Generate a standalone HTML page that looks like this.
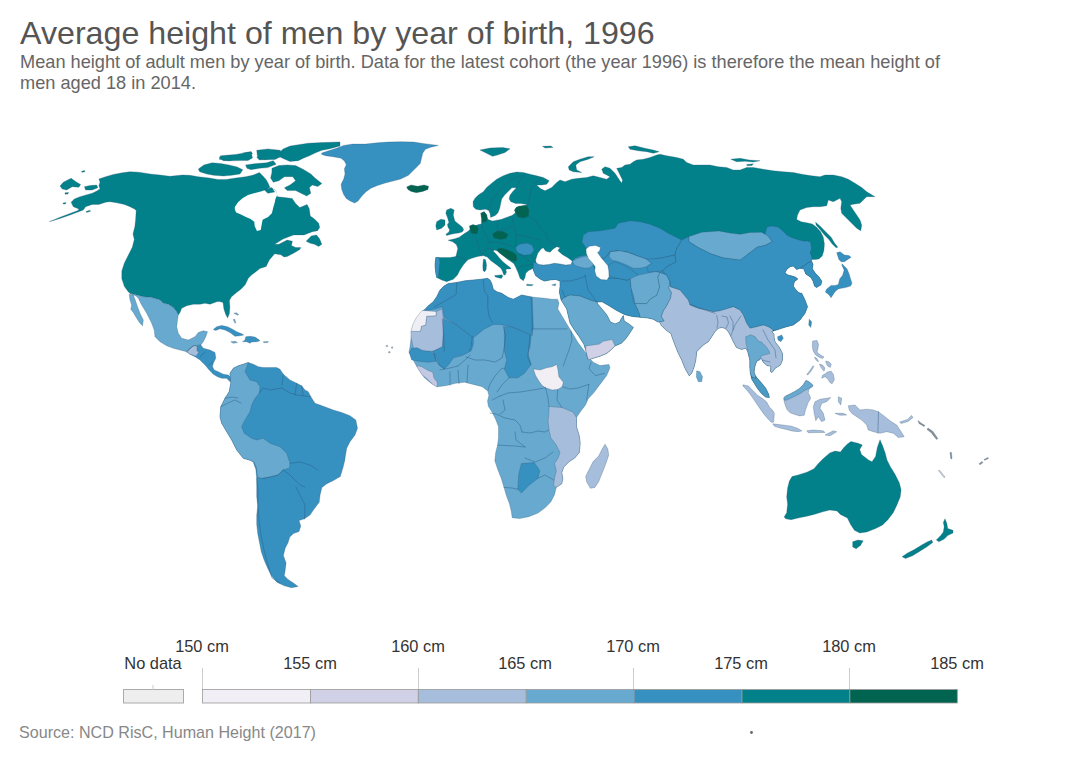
<!DOCTYPE html>
<html><head><meta charset="utf-8">
<style>
html,body{margin:0;padding:0;background:#fff;}
body{width:1080px;height:762px;position:relative;overflow:hidden;font-family:"Liberation Sans",Arial,sans-serif;}
.t{position:absolute;white-space:nowrap;line-height:1;}
#title{left:20px;top:16.5px;font-size:32.2px;color:#555;}
#sub1{left:20px;top:53px;font-size:18.2px;color:#666;}
#sub2{left:20px;top:73.5px;font-size:18.2px;color:#666;}
#src{left:19px;top:724.2px;font-size:16.1px;color:#888;}
.lab{position:absolute;font-size:16.4px;color:#333;white-space:nowrap;line-height:1;transform:translateX(-50%);}
svg{position:absolute;left:0;top:0;}
</style></head><body>
<div class="t" id="title">Average height of men by year of birth, 1996</div>
<div class="t" id="sub1">Mean height of adult men by year of birth. Data for the latest cohort (the year 1996) is therefore the mean height of</div>
<div class="t" id="sub2">men aged 18 in 2014.</div>
<div class="t" id="src">Source: NCD RisC, Human Height (2017)</div>
<div class="lab" style="left:153px;top:655px">No data</div>
<div class="lab" style="left:202px;top:637.8px">150 cm</div>
<div class="lab" style="left:310px;top:655px">155 cm</div>
<div class="lab" style="left:418px;top:637.8px">160 cm</div>
<div class="lab" style="left:525px;top:655px">165 cm</div>
<div class="lab" style="left:633px;top:637.8px">170 cm</div>
<div class="lab" style="left:741px;top:655px">175 cm</div>
<div class="lab" style="left:849px;top:637.8px">180 cm</div>
<div class="lab" style="left:957px;top:655px">185 cm</div>
<svg width="1080" height="762" viewBox="0 0 1080 762"><g stroke="#2f5570" stroke-width="0.5" stroke-opacity="0.55" stroke-linejoin="round"><path d="M49.4 221.7 60 218.5 70 215 78 212 83.3 210 85.6 206.7 92.2 204.4 98.9 204.4 105.6 202.2 110 201.7 116.7 202.8 124.4 204.4 130 206.7 134.4 208.9 136.2 210.5 135.6 219.7 134.9 226.2 133 234.1 134.3 239.4 132.3 247.2 128.4 255.1 124.4 263 121.8 270.9 121.8 278.7 124.4 286.6 128.4 291.9 130 293.3 136.7 295 143.3 296.7 151.7 297.5 160 300 163.3 303.3 168.3 304.2 173.3 307.5 176.7 311.7 178.3 315 180 312.5 181.7 308.3 186.7 305.8 193.3 304.2 200 304.2 205 303.3 210 304.2 216.7 301.7 219.3 301.5 223 302.4 223.9 308.9 225.7 314.4 227.6 318.1 229.4 313.5 229.9 307 229.4 300.6 231.3 296.9 235.9 293.1 240.6 289.4 245.2 284.8 248.3 278.3 251.5 275 254.6 272.7 259.9 268.5 266.2 266.4 269.3 260.1 274.6 253.8 280.9 254.8 284 256.9 287.2 256.4 293.5 253.3 299.8 249.6 300.8 247.5 295.6 247.5 291.4 245.4 292.4 241.2 287.2 240.1 278.8 244.3 274.6 244.3 283 239.1 293.5 234.9 304 234.9 312.4 231.7 317.6 230.7 319.7 227.5 318.7 223.3 314.5 219.1 310.3 216 309.2 208.6 307.1 204.4 299.8 207.6 295.6 203.4 292.2 198.5 284.8 197.6 277.4 196.7 275.6 190.2 270 187.4 268 183 266.4 180 263.6 176.7 259.4 172.5 252.5 175.3 245.6 176.7 235.8 178 226.1 179.4 217.8 179.4 209.4 178 198.3 176.7 190 175.3 182.5 175 170 176.3 160 175 150 173.9 138.9 172.2 130 171.7 122.2 172.8 113.3 174.4 105.6 176.7 98.9 178.9 100 182.2 98.9 185.6 100 188.9 96.7 191.1 92.2 193.3 87.8 194.4 80 196.7 74.4 198.9 71.1 202.2 73.3 206.7 78.9 208.9 78 210.5 70 213.5 60 217.3 49.4 221.7Z" fill="#02818a"/>
<path d="M234.8 206.9 238 202.2 242.5 198.2 248 195 253 193.5 257 192.5 262.6 191.1 266.3 189.3 270 187.4 275.6 190.2 277.4 194.8 275.6 198.5 274.6 203.1 273.2 207.8 271.9 213.3 268.1 217 262.6 219.8 261.7 224.4 260.7 230 257 230.9 254.7 226.3 254.3 221.7 250.6 218.9 245.9 217 240.4 214.3 236.2 212.4 234.8 209.6Z" fill="#ffffff" stroke="none"/>
<path d="M306.1 241.2 311.3 235.9 316.6 234.9 319.7 239.1 321.8 244.3 318.7 246.4 314.5 244.3 310.3 243.3Z" fill="#02818a"/>
<path d="M60 186.1 63.3 182.2 71.1 178.3 76.7 182.2 80.6 184.4 78.9 187.2 72.2 186.7 66.7 190 62.2 188.9Z" fill="#02818a"/>
<path d="M84.4 186.7 90 185.6 96.7 185 97.8 187.8 92.2 190 85.6 190Z" fill="#02818a"/>
<path d="M65 192.8 68.5 192.5 68 194 65 194.2Z" fill="#02818a"/>
<path d="M81.5 171.3 84.5 170.6 85 171.8 82 172.3Z" fill="#02818a"/>
<path d="M63 203 66 202.6 65.5 204 63.2 204Z" fill="#02818a"/>
<path d="M86 211.5 90 210.3 90.5 211.3 86.5 212.5Z" fill="#02818a"/>
<path d="M283.1 148.9 290 146.1 298.3 144.7 308.1 143.3 321.9 142.6 340 141.9 340 146.1 328.9 148.9 321.9 150.3 315 153.1 309.4 155.8 303.9 157.9 298.3 160.7 290 161.4 283.1 158.6 277.5 155.8 280.3 151.7Z" fill="#02818a"/>
<path d="M271.9 168.3 278.9 165.6 287.2 164.9 295.6 165.6 303.9 169.7 310.8 173.9 315 178 321.9 183.6 317.8 186.4 312.2 185 309.4 187.8 310.8 193.3 306.7 196.1 301.1 193.3 295.6 190.6 287.2 190.6 284.4 187.8 290 185 295.6 180.8 292.8 176.7 284.4 176.7 278.9 180.8 273.3 182.2 270.6 178 271.9 172.5Z" fill="#02818a"/>
<path d="M198.3 169 203.9 164.9 212.2 162.8 220.6 163.5 228.9 164.9 237.2 167 242.8 169.7 240 173.9 231.7 175.3 223.3 176 213.6 175.3 206.7 173.9 199.7 171.8Z" fill="#02818a"/>
<path d="M219.2 157.2 227.5 155.8 235.8 155.1 237.2 157.9 230.3 160.7 223.3 160.7Z" fill="#02818a"/>
<path d="M242.8 153.1 251.1 151.7 252.5 153.8 245.6 155.1Z" fill="#02818a"/>
<path d="M259.4 153.1 267.8 151.7 276.1 153.1 273.3 155.8 265 155.8Z" fill="#02818a"/>
<path d="M245.6 164.9 256.7 163.5 266.4 162.8 273.3 160.7 276.1 164.2 267.8 167.6 259.4 168.3 251.1 169.7 246.9 168.3Z" fill="#02818a"/>
<path d="M256.7 157.2 265 156.5 267.8 159.3 259.4 160Z" fill="#02818a"/>
<path d="M263.6 189.2 271.9 187.8 274.7 192 267.8 193.3Z" fill="#02818a"/>
<path d="M220.6 155.8 235.8 154.4 251.1 151.7 252.5 158 248 160.5 241.4 160.6 228.9 160.8 219.2 159.3Z" fill="#02818a"/>
<path d="M256.7 150.3 267.8 148.9 280.3 150.3 281.7 156.2 275 159.5 264 159.8 257.5 157.2Z" fill="#02818a"/>
<path d="M321.7 153.1 329.4 150.6 337.2 148 343.7 145.4 352.8 144.1 365.7 144.1 377.4 142.8 387.8 142.1 400.7 141.7 413.7 142.1 422.8 143.4 438.3 145.4 430.6 147.3 425.4 149.3 422.8 153.1 421.5 158.3 420.2 163.5 416.3 167.4 412.4 171.3 408.5 175.2 400.7 179.1 393 181 385.2 183 377.4 185.6 370.9 188.2 365.7 192 361.9 195.9 358 201.1 354.7 203.1 350.2 201.1 346.3 198.5 343.7 194.6 341.8 189.4 341.1 184.3 343.7 179.1 345 173.9 344.4 168.7 346.3 164.8 344.4 160.9 341.1 158.3 334.6 157 325.6 155.7 321.7 154.4Z" fill="#3690c0"/>
<path d="M406.6 186.9 411.1 184.9 417.6 186.2 424.1 184.9 428.6 186.2 428 189.4 422.8 191.4 416.3 192.7 411.1 191.4 407.9 189.4Z" fill="#016450"/>
<path d="M129.2 294.2 133.3 295 135 299.2 137.5 306.7 140 313.3 143.3 320 142.5 325.8 140 323.3 136.7 318.3 133.3 312.5 130.8 309.2 131.7 305 130 300Z" fill="#67a9cf"/>
<path d="M130 293.3 136.7 295 143.3 296.7 151.7 297.5 160 300 163.3 303.3 168.3 304.2 173.3 307.5 176.7 311.7 178.3 315 177.5 320 176.7 326.7 178.3 333.3 181.7 338.3 188.3 340 195 336.7 198.3 332.5 203.3 330.8 207.5 331.7 205.8 336.7 203.3 341.7 200.8 345 193 346 186.7 351.7 180 350 173.3 348.3 166.7 345.8 160 341.7 155 336.7 154.2 330 151.7 323.3 146.7 313.3 141.7 305 138.3 298.3 136 296Z" fill="#67a9cf"/>
<path d="M200.8 345 203.3 348.3 210 350 215 352.5 215.8 358.3 213.3 363.3 212.5 366.7 214.2 370 218.3 371.7 223.3 374.2 228.3 375 231.7 378.3 230 381.7 226.7 378.3 221.7 378.3 217.5 376.7 213.3 374.2 209.2 370 205 365 200 360 195 356.7 190 354.2 186.7 351.7 193 346Z" fill="#3690c0"/>
<path d="M186.7 351.7 193 346 197 346 197 351 199 352 196 356.2 190 354.2Z" fill="#a6bddb"/>
<path d="M213.3 329.6 216.7 326.7 221.7 325.4 227.5 326.7 232.5 329.2 236.7 331.7 241.7 333.8 243.8 335 240 335.8 235 336.3 233.3 335 230 332.5 225 330 220 328.8 215.8 330.4Z" fill="#3690c0"/>
<path d="M245.8 336.7 250 336.3 255 337.1 258.3 339.2 260 340.8 256.7 341.7 251.7 342.1 250 343.3 246.7 341.7 242.5 341.7 245 340Z" fill="#3690c0"/>
<path d="M230.8 341.7 235 341.3 237.5 342.5 233.3 343.3Z" fill="#67a9cf"/>
<path d="M263.3 341.7 268.3 341.5 267.9 342.5 263.8 342.7Z" fill="#67a9cf"/>
<path d="M233.3 319.5 234.5 319 235.8 322.5 235 323.3Z" fill="#67a9cf"/>
<path d="M233.8 313.2 236.5 312.8 238.6 314.6 237.8 315.3 235.5 314Z" fill="#67a9cf"/>
<path d="M230 373.3 233.3 368.3 238.3 365.8 243.3 364.2 248.3 362.5 253.3 364.2 258.3 366.7 263.3 367.5 270 367.5 276.7 367.5 280 369.2 283.3 374.2 290 380 296.7 383.3 301.7 385.8 305 390 308.3 391.7 310.8 396.7 315 403.3 320 405 326.7 407.5 333.3 410 341.7 412.5 350 415.8 355.8 420 357.5 428.3 355 435 350 441.7 346.7 448.3 345 458.3 344.9 460 343.1 467.3 340.3 476.5 333.9 480.2 326.5 483.9 321.9 487.6 320.1 494.9 319.2 502.2 313.7 509.6 310 515.1 304.5 518.8 299 520.6 300.8 526.1 299 531.6 293.5 533.5 289.8 537.1 288 542.7 285.2 548.2 283.4 555.5 286.1 562.9 285.2 570.2 284.3 575.7 288 579.4 293.5 583.1 298.1 586.4 291.6 587.7 284.3 585.8 276.9 582.2 271.4 575.7 267.8 568.4 264.1 560.1 261.3 551.8 259.5 542.7 257.7 533.5 256.7 524.3 256.7 515.1 257.7 505.9 256.7 496.7 256.7 487.6 256.7 478.4 255.8 469.2 253.1 461.8 249.4 460 243.3 458.3 236.7 450 231.7 440 226.7 431.7 221.7 423.3 220 416.7 220.8 406.7 225 398.3 229.2 391.7 230.8 383.3Z" fill="#3690c0"/>
<path d="M230 373.3 233.3 368.3 238.3 365.8 243.3 364.2 248.3 362.5 245 371.7 250 380 256.7 381.7 260 386.7 259.2 393.3 255 398.3 251.7 405 250 411.7 245 420 241.7 426.7 244.2 433.3 251.7 438.3 256.7 440 263.3 438.3 270 443.3 280 446.7 286.7 453.3 290 463.3 289.5 468 283 470 278 475 270 477 262 478.5 257.5 477 256.5 468 254 462 249.4 460 243.3 458.3 236.7 450 231.7 440 226.7 431.7 221.7 423.3 220 416.7 220.8 406.7 225 398.3 229.2 391.7 230.8 383.3Z" fill="#67a9cf"/>
<path d="M435.8 257.5 441.7 257.5 450 257.5 455.9 256.5 457 252 457.8 248.3 456.3 244.6 452.6 241.7 448.1 240.2 454.8 238.7 459.3 237.2 464.4 233.5 468.1 231.3 471.1 228.3 474.1 226.1 478.5 224.6 481.5 223.9 481.7 218.3 480.8 213.3 484.2 211.7 486.7 215 487.5 219.2 492.4 221.1 497 220.2 501.7 219.3 506.3 217.4 511.9 215.6 515.6 212.8 514.6 210 516.5 207.2 519.3 206.3 526.7 205.3 526.7 204.4 521.1 203.5 515.6 203.5 510.9 201.7 509.1 198.9 510 195.2 512.8 191.5 516.5 187.8 511.9 187.8 508.1 191.5 504.4 195.2 501.7 198.9 500.7 203.5 499.8 208.1 498 212.8 495.2 215.6 490.6 217.4 490 213.3 488.3 210 485 209.2 480 210 475.8 209.2 473.3 206.7 473 201.7 475 198.3 478.3 195 483.3 191.7 486.7 187.5 491.7 183.3 496.7 179.2 503.3 175.8 510 173.3 516.7 172 523.3 172.5 530 174.2 536.7 175.8 543.3 177.5 549.2 180.8 546.7 184.2 541.7 185 536.7 185 540 188.3 545 190.8 551.7 187.5 556.7 182.5 560 180 565 181.7 571.7 179.2 578.3 178.3 586.7 177.5 593.3 175.8 600 177.5 606.7 179.2 610 176.7 603.3 173.3 601.7 169.2 605 166.7 610 168.3 615 173.3 618.3 178.3 621.7 183.3 622.5 180 619.2 173.3 616.7 168.3 621.7 167.5 625 165 630 164.2 633.3 161.7 636.7 160 643.3 159.2 650 157.5 656.7 155 660 154.2 666.7 155.8 676.7 157.5 683.3 159.2 686.7 162.5 693.3 165 701.7 165 710 165 718.3 166.7 726.7 167.5 733.3 170 740 170 746.7 167.5 753.3 167.5 763.3 169.2 773.3 170.8 783.3 171.7 793.3 172.5 801.7 174.2 811.7 175.8 820 176.7 825 175 833.3 175 841.7 176.7 848.3 179.2 855 183.3 861.7 187.5 866.7 191.7 875 196.7 866.7 196.7 863.3 200 860 203.3 853.3 204.2 850 205 853.3 210 856.7 215 860 220 861.7 225 860.8 230.8 856.7 228.3 851.7 223.3 846.7 218.3 841.7 213.3 840.8 208.3 841.7 201.7 840 198.3 836.7 200 833.3 201.7 828.3 200 826.7 205.8 820 206.7 813.3 206.7 806.7 207.5 800 210 797.5 215 796.7 219.4 801.1 221.7 806.7 222.8 812.2 223.9 816.7 227.2 820.6 231.7 823.3 237.2 824.4 243.9 823.9 250.6 822.2 256.1 818.9 258.9 815.6 259.4 812.2 259.4 810 261.7 811.6 261 813 264.5 812.3 268.8 815.2 273.1 818.8 276.7 821.7 281.1 821 284.7 816.6 287.6 814.5 286.1 813 281.1 810.9 277.5 805.8 273.9 803.7 268.8 800 268.3 796.7 269.4 793.3 266.1 790 266.7 786.7 269.4 785 272.8 787.8 275 792.2 276.1 795.6 277.2 797.8 278.9 794.4 281.7 793.3 286.1 795.6 289.4 798.9 292.8 801.7 293.3 805 300 807.5 306.7 805 313.3 800 320 793.3 325 786.7 326.7 781.7 328.3 776.7 330 771.7 331.7 774 334 774.1 337.8 775.1 342 779.3 347.3 782.5 353.6 782.5 359.9 780.4 365.1 775.1 368.3 772 372.5 770.4 371.4 770.9 366.2 767 365.5 763 362 761.5 358 759.4 359.9 757.3 360.4 755.5 364 754.5 368 754 372 755.5 376 758 379 761.5 383 765.7 388.2 768.8 394.5 769.3 397.6 765.7 397.1 761.5 393.5 757.3 388.2 754.1 383 751.5 378.8 750.5 374 749.9 367 749.9 359.9 747.8 351.5 745.7 348.3 741.5 349.4 736.3 347.3 733 341 730 334.7 728.3 331.7 725 328.3 721.7 327.5 718.3 328.3 715 331.7 711.7 336.7 708.3 341.7 703.3 345 700 348.3 696.7 351.7 695.8 360 694.2 366.7 691.7 373.3 689.2 375.8 685 368.3 681.7 360 678.3 353.3 675 345 672.5 338.3 670.8 333.3 668.3 331.7 665.1 329.3 661.4 325.6 659.6 321.9 657.8 321.9 653.2 319.2 646.7 317.8 640.3 317.3 632.4 316.5 625.1 314.7 621.4 312.9 615.9 310.1 608.6 305.5 602.1 301.8 597 302 597.5 303.7 602.1 309.2 606.7 314.7 608.6 318.4 610.4 322 615 323.9 619.6 322 621.4 318.4 623.3 315.6 624.2 321.1 628.8 323.9 633.4 327.5 629.7 333.1 626 338.6 621.4 343.2 615 345.9 611.3 349.6 606.7 353.3 600.3 356 593.9 357.9 588.4 359.7 587.4 358.8 586.1 351.4 583.8 344.1 579.2 336.7 574.6 330.3 570 323 566.7 308.9 561.1 300 559.4 292.2 560 286.7 560 281.1 555.6 279.4 550 280 544.4 281.1 540 278.9 535.6 275.6 533.3 270 533.3 268.3 528.3 270.8 525.8 273.3 525 277.5 523.3 280.8 520 278.3 518.3 273.3 516.7 269.2 513.9 263.7 510.9 261.5 506.5 258.5 502 254.8 497.6 251.1 494.5 250 493.1 251.1 496.1 254.1 499.8 258.5 503.5 262.2 507.2 265.2 510.2 267.4 510.9 268.9 508.7 268.9 507 269 505.7 269.8 506.5 272 505.5 274.5 504 275.2 503.2 273.5 502.5 271 500.6 268.1 496.1 264.4 490.9 260.7 487.2 257 482.8 255.6 476.7 256.7 471.7 258.3 467.5 260 463.3 265 460 270 457.5 275 453.3 279.2 446.7 281.7 441.7 280 436.7 277.5 435.8 273.3 435 265Z" fill="#02818a"/>
<path d="M469.3 226 473 224.6 476.7 225.8 478.5 229 477 233.9 471 233Z" fill="#016450"/>
<path d="M481.7 218.3 480.8 213.3 484.2 211.7 486.7 215 487.5 219.2 486 221.5 482 222.5Z" fill="#016450"/>
<path d="M516.5 207.2 519.3 206.3 526.7 205.3 529 210 528.5 216 524 218.1 518 217 515.6 212.8 514.6 210Z" fill="#016450"/>
<path d="M492.4 234 497 231.1 503 231.5 508.1 234.5 506 238.5 500 239.4 494 238Z" fill="#016450"/>
<path d="M496.9 249.6 500.6 248.1 506.5 249.6 512.4 251.9 516.1 254.8 516.9 259.3 515.4 261.5 512.4 260.7 509.4 259.3 506.5 257.8 502 254.8 498.3 251.9Z" fill="#016450"/>
<path d="M515.6 247 520 244 527 243.1 532 245 534.1 250 531 254.5 524 255.2 518 253 516 250Z" fill="#3690c0"/>
<path d="M435.8 257.5 439 257.5 440 262 439 270 438.5 277 436.7 277.5 435.8 273.3 435 265Z" fill="#3690c0"/>
<path d="M446.7 210 450.8 208.3 454.2 210 453.3 215 454.8 220.9 458.5 223.9 462.2 226.9 463.7 229.8 462.2 232 458.5 233.1 454.8 233.5 451.1 234.3 446.7 235.4 445.9 234.3 448.9 232 449.6 229.8 448.1 227.6 447.4 224.6 448.9 222.4 447.5 217.5 445.8 213.3Z" fill="#02818a"/>
<path d="M436.7 221.7 440.8 219.2 445 220 445 225 441.7 228.3 436.7 230 435.8 225.8Z" fill="#02818a"/>
<path d="M483.5 258.9 485.4 259.6 486.1 262.2 486.5 265.2 486.1 269.6 484.6 271.9 483.1 270.4 482.8 265.9 483.1 262.2Z" fill="#02818a"/>
<path d="M494.6 275.6 498.3 275.2 502 274.8 502.8 276.3 501.3 278.5 498.3 277.8 495.4 277Z" fill="#02818a"/>
<path d="M526.7 284.2 533.3 284.7 531.7 285.8 526.7 285.5Z" fill="#02818a"/>
<path d="M551.7 285 555.8 283.7 555.3 285.8Z" fill="#3690c0"/>
<path d="M568.3 166.7 573.3 161.7 580 159.2 588.3 156.7 594.2 156.7 588.3 159.2 580 161.7 575.8 165 576.7 170 581.7 172.5 573.3 171.7 569.2 170Z" fill="#02818a"/>
<path d="M628.3 146.7 635 145.8 645 148.3 653.3 150 659.2 151.7 653.3 153.3 646.7 151.7 638.3 150.8 630 149.2Z" fill="#02818a"/>
<path d="M730.8 159.2 740 158.3 749.2 160 760 160.8 753.3 162 745 161.3 736.7 161.7Z" fill="#02818a"/>
<path d="M746.7 164.5 753.3 163.8 752 165.5 747 165.8Z" fill="#02818a"/>
<path d="M480 150 490 148 502.5 147.5 510 148.8 505 152.5 497.5 155 492.5 156.3 487.5 153.8Z" fill="#02818a"/>
<path d="M542.5 146.3 551 146 553 147.5 545 148Z" fill="#02818a"/>
<path d="M815.6 222.2 820 226.1 825.6 231.7 831.1 237.2 834.4 242.8 837.8 247.2 836.1 247.8 832.2 243.9 828.9 239.4 824.4 235 820 229.4 816.1 225Z" fill="#02818a"/>
<path d="M448.3 283.5 456.7 282.5 465 280.8 473.3 280 481.7 279.2 487.5 278.3 490 280 491.7 283.3 493.3 289.2 496.7 291.7 501.7 293.3 508.3 297.5 513.3 299.2 516.7 297.5 521.7 295 530 296.7 536.7 297.5 545 298.3 551.7 299.2 557.5 299.2 559 303 557.8 308.9 564.4 320 571.1 331.1 577.8 342.2 584.4 351.1 588.9 357.8 593.3 362.2 600 365.6 608.9 364.4 610 367.8 606.7 375.6 600 384.4 593.3 393.3 588 399 585.7 404.7 580.2 412 576.5 417.6 576.5 426.7 579.3 435.9 580.2 443.3 579.3 452.5 574.7 458 569.2 461.6 563.7 467.1 561.8 472.7 562.8 478.2 561.8 483.7 556.3 487.4 554.5 494.7 550.8 502 545.3 507.6 538 513.1 528.8 516.7 519.6 518.6 512.2 517.7 511.3 511.2 509.5 503.9 506.7 496.5 504 487.4 501.2 478.2 497.6 469 494.8 460.7 495.7 452.5 497.6 445.1 498.5 437.8 498.5 426.7 495.7 419.4 492 412 488.4 406.5 487.5 401 488.9 395.6 487.8 391.1 482.2 386.7 473.3 384.4 464.4 382.2 455.6 383.3 446.7 385.6 437.8 386.7 431.1 383.3 424.4 377.8 420 371.1 415.6 364.4 412.2 357.8 408.9 352.2 410 346.7 411.1 337.8 412.2 328.9 415.6 322 418 318 421.7 313.3 425 309.2 428.3 305.8 433.3 301.7 436.7 296.7 440 290 444 286Z" fill="#67a9cf"/>
<path d="M448.3 283.5 456.7 282.5 465 280.8 473.3 280 481.7 279.2 487.5 278.3 490 280 491.7 283.3 493.3 289.2 496.7 291.7 501.7 293.3 508.3 297.5 513.3 299.2 516.7 297.5 521.7 295 530 296.7 532.2 297.8 533.3 327.8 531.1 335.6 524.4 332.2 511.1 326.7 500 324.4 493.3 324.4 484.4 328.9 473.3 337.8 464.4 331.1 455.6 324.4 444.4 317.8 442.2 306.7 435.6 308.9 428.9 310 422.2 311.1 425 309.2 428.3 305.8 433.3 301.7 436.7 296.7 440 290 444 286Z" fill="#3690c0"/>
<path d="M504.4 326.7 511.1 326.7 524.4 332.2 531.1 335.6 530 346.7 527.8 353.3 531.1 364.4 524.4 373.3 517.8 377.8 508.9 377.8 504.4 368.9 506.7 360 504.4 351.1 504.4 340Z" fill="#3690c0"/>
<path d="M443.3 318.9 455.6 324.4 464.4 331.1 473.3 337.8 473.3 344.4 471.1 351.1 462.2 355.6 453.3 357.8 448.9 364.4 444.4 368.9 438.9 364.4 435.6 355.6 433.3 351.1 442.2 346.7 443.3 333.3Z" fill="#3690c0"/>
<path d="M420.4 331.4 421.4 326.2 425.6 325.1 426.7 316.2 436.1 315.7 436.1 311.5 442.2 309 443.3 318.9 443.3 333.3 442.2 346.7 433.3 351.1 422.2 351.1 413.3 347.8 411.1 337.8 410.9 331.4Z" fill="#a6bddb"/>
<path d="M422.5 310.4 436.1 311.5 436.1 315.7 426.7 316.2 425.6 325.1 421.4 326.2 420.4 331.4 410.9 331.4 413 324.1 416.2 317.8 419.3 313.6Z" fill="#f0eef5"/>
<path d="M386 345.5 387.5 345.2 387.8 346.5 386.3 346.8Z" fill="#b4b8c0"/>
<path d="M391.5 347 392.7 346.8 392.8 348.2 391.6 348.3Z" fill="#b4b8c0"/>
<path d="M388.5 351.8 390 351.5 390.2 352.8 388.7 353Z" fill="#b4b8c0"/>
<path d="M533.3 368.9 540 370 546.7 367.8 552.2 366.7 556.7 364.4 557.8 368.9 558.9 376.7 563.3 382.2 562.2 386.7 557.8 389.4 552.2 390 545.6 387.8 542.2 385.6 538.9 381.1 535.6 375.6Z" fill="#f2eff4"/>
<path d="M549 406.5 561.8 407.5 572.9 412 576.5 417.6 576.5 426.7 579.3 435.9 580.2 443.3 579.3 452.5 574.7 458 569.2 461.6 563.7 467.1 561.8 472.7 562.8 478.2 561.8 483.7 556.3 487.4 553.6 485.5 554.5 478.2 556.3 470.8 554.5 463.5 558.2 458 560 452.5 556.3 445.1 550.8 437.8 549 430.4 548.1 421.2 549 412Z" fill="#a6bddb"/>
<path d="M521.4 463.5 534.3 462.6 539.8 470.8 538 478.2 528.8 485.5 521.4 492.9 517.8 489.2 518.7 474.5Z" fill="#3690c0"/>
<path d="M605 444.2 607.8 448.8 608.7 455.2 605.9 463.5 602.3 472.7 598.6 481.8 594.9 487.4 590.3 488.3 586.6 481.8 585.7 476.3 589.4 469 593.1 461.6 598.6 456.1 602.3 448.8Z" fill="#a6bddb"/>
<path d="M409.4 352.8 411.7 348.3 417.2 347.8 422.8 350.6 430.6 351.7 435 354.4 436.1 361.1 429.4 362.2 421.7 361.7 415 360.6 411.7 360 410.6 356.7Z" fill="#3690c0"/>
<path d="M416.1 365.6 421.7 374.4 427.2 378.9 432.8 384.4 437.2 387.2 437.2 382.2 433.9 377.8 432.8 372.2 427.2 370 421.7 366.7Z" fill="#c3c9e2"/>
<path d="M533.3 262 536.1 262.8 538.9 264.4 543.3 265 548.9 264.4 554.4 263.3 560 263.9 565.6 265 571.1 264.4 572.2 261.1 575 258 580 256 586 255 588.3 256.7 591.7 260 593.3 265 595.8 271.7 598.3 276.7 603.3 279.2 608.3 278.3 612 278 618.3 278.3 626.7 280 631.7 278.3 630.2 278.8 631.1 288 633.9 297.1 634.8 303.6 637.5 309.1 639.4 313.7 640.3 317.3 632.4 316.5 625.1 314.7 621.4 312.9 615.9 310.1 608.6 305.5 602.1 301.8 597 302 590 300 580 296 570 295 565 297 561.1 300 559.4 292.2 560 286.7 560 281.1 555.6 279.4 550 280 544.4 281.1 540 278.9 535.6 275.6 533.3 270Z" fill="#3690c0"/>
<path d="M572.2 261.5 576 259 581 257.3 586 256 588.3 256.7 591.7 260 593.3 265 590 267.8 585 268.3 580 267.2 575 265.5Z" fill="#67a9cf"/>
<path d="M561.1 300 565 297 570 295 580 296 590 300 597 302 597.5 303.7 602.1 309.2 606.7 314.7 608.6 318.4 610.4 322 615 323.9 619.6 322 621.4 318.4 623.3 315.6 624.2 321.1 628.8 323.9 633.4 327.5 629.7 333.1 626 338.6 621.4 343.2 615 345.9 611.3 349.6 606.7 353.3 600.3 356 593.9 357.9 588.4 359.7 587.4 358.8 586.1 351.4 583.8 344.1 579.2 336.7 574.6 330.3 570 323 566.7 308.9Z" fill="#67a9cf"/>
<path d="M586.1 345.9 593 345 599.4 344.1 603.1 341.3 612.2 339.5 615 345.9 611.3 349.6 606.7 353.3 600.3 356 593.9 357.9 588.4 359.7 587 355.1 585.6 349.6Z" fill="#d0d1e6"/>
<path d="M583.3 235 588.3 231.7 600 230.8 615 228.3 618.3 223.3 630 220.8 640 221.7 650 224.2 660 228.3 668.3 233.3 676.7 237.5 681.7 240 680 243.3 676.7 248.3 675 255 668.3 256.7 660 258.3 650 260 643.3 258.3 635 255 626.7 251.7 616.7 250.8 610 251.7 605 258.3 600 258 596 253 590 249 586 248 582 242Z" fill="#3690c0"/>
<path d="M600 258 605 258.3 610 251.7 616.7 250.8 626.7 251.7 635 255 643.3 258.3 650 260 660 258.3 668.3 256.7 675 255 676 262 668 266 662 271 666.7 275 660 272.5 656.7 278.3 653.3 285 650 293.3 645 301.7 638.3 303.3 633.3 301.7 631.7 293.3 631.7 285 631.7 278.3 626.7 280 618.3 278.3 612 278 608.3 278.3 606 272 605 265 602 262Z" fill="#3690c0"/>
<path d="M608.3 265 615 261.7 623.3 265 631.7 270 638.3 275 635 278.3 626.7 280 618.3 278.3 610 276.7 607.5 271.7Z" fill="#3690c0"/>
<path d="M610 251.7 620 250.8 628.3 252.5 636.7 255.8 646.7 259.2 651.7 263.3 646.7 266.7 640 268.3 633.3 268.3 626.7 265 618.3 261.7 611.7 260 609.2 256.7Z" fill="#67a9cf"/>
<path d="M646.7 259.2 660 258.3 675 255 676 262 668 266 662 271 655 271.7 648 272 646.7 266.7 651.7 263.3Z" fill="#3690c0"/>
<path d="M630.2 278.8 638.3 275 646.7 273.3 655 271.7 660 272.5 657.8 276.9 659.6 287 656.8 295.3 650.4 299 646.7 303.6 634.8 303.6 633.9 297.1 631.1 288Z" fill="#67a9cf"/>
<path d="M660 272.5 666.7 275 670 281.7 668.8 288 671.5 292.5 670.6 298.1 666.9 305.4 663.3 310.9 661.4 316.4 664.2 321 659.6 321.9 657.8 321.9 653.2 319.2 646.7 317.8 640.3 317.3 639.4 313.7 637.5 309.1 634.8 303.6 640 303.6 646.7 303.6 650.4 299 656.8 295.3 659.6 287 657.8 276.9Z" fill="#67a9cf"/>
<path d="M681.7 240 689 236.5 689 241.6 697.6 247.1 710.4 253.5 723.1 257.8 740.2 259.9 748.7 253.5 757.2 247.1 765.7 245 772.1 241.6 768 236 764.8 235.2 767 227 772.2 225.9 778.1 227 782.6 230.7 787 235.2 791.5 237.4 797.4 239.6 803.3 241.1 807.8 241.1 810.7 242.6 811.5 248.5 810 253 811.5 255.9 812 260 810 261.7 805 265 800 268.3 796.7 269.4 793.3 266.1 790 266.7 786.7 269.4 785 272.8 787.8 275 792.2 276.1 795.6 277.2 797.8 278.9 794.4 281.7 793.3 286.1 795.6 289.4 798.9 292.8 801.7 293.3 805 300 807.5 306.7 805 313.3 800 320 793.3 325 786.7 326.7 781.7 328.3 776.7 330 773.3 330 768.3 326.7 763.3 325 756.7 326.7 750 328.3 746.7 323.3 743.3 315 740 310 733.3 306.7 728.3 308.3 720 310.8 713.3 311.7 706.7 310 698.3 308.3 690 305 688.3 300 680 290 670 286.7 670 281.7 666.7 275 662 271 668 266 676 262 675 255 676.7 248.3 680 243.3Z" fill="#3690c0"/>
<path d="M689 236.5 701.8 232.2 718.9 230.9 730 233 740.2 234.3 750 232.5 761.5 232.2 768 236 772.1 241.6 765.7 245 757.2 247.1 748.7 253.5 740.2 259.9 723.1 257.8 710.4 253.5 697.6 247.1 689 241.6Z" fill="#67a9cf"/>
<path d="M810 261.7 811.6 261 813 264.5 812.3 268.8 815.2 273.1 818.8 276.7 821.7 281.1 821 284.7 816.6 287.6 814.5 286.1 813 281.1 810.9 277.5 805.8 273.9 803.7 268.8 800 268.3 805 265Z" fill="#3690c0"/>
<path d="M670 281.7 670 286.7 680 290 688.3 300 690 305 698.3 308.3 706.7 310 713.3 311.7 720 310.8 728.3 308.3 733.3 306.7 740 310 743.3 315 746.7 323.3 750 328.3 756.7 326.7 763.3 325 768.3 326.7 773.3 330 771.7 331.7 774 334 774.1 337.8 775.1 342 779.3 347.3 782.5 353.6 782.5 359.9 780.4 365.1 775.1 368.3 772 372.5 770.4 371.4 770.9 366.2 767 365.5 763 362 761.5 358 759.4 359.9 757.3 360.4 755.5 364 754.5 368 754 372 752.6 377.5 750.5 374 749.9 367 749.9 359.9 747.8 351.5 745.7 348.3 741.5 349.4 736.3 347.3 733 341 730 334.7 728.3 331.7 725 328.3 721.7 327.5 718.3 328.3 715 331.7 711.7 336.7 708.3 341.7 703.3 345 700 348.3 696.7 351.7 695.8 360 694.2 366.7 691.7 373.3 689.2 375.8 685 368.3 681.7 360 678.3 353.3 675 345 672.5 338.3 670.8 333.3 668.3 331.7 665.1 329.3 661.4 325.6 659.6 321.9 664.2 321 661.4 316.4 663.3 310.9 666.9 305.4 670.6 298.1 671.5 292.5 668.8 288Z" fill="#a6bddb"/>
<path d="M745.7 336.8 751 334.7 755.2 336.8 758.3 341 761.5 342 765.7 346.2 768.8 350.4 769.9 353.6 765.7 354.6 761.5 355.7 759.4 359.9 757.3 360.4 755.5 364 754.5 368 754 372 755.5 376 756 378.5 752.6 377.5 750.5 374 749.9 367 749.9 359.9 747.8 351.5 746 343Z" fill="#67a9cf"/>
<path d="M755.5 376 758 379 761.5 383 765.7 388.2 768.8 394.5 769.3 397.6 765.7 397.1 761.5 393.5 757.3 388.2 754.1 383 751.5 378.8 752.6 377.5 756 378.5Z" fill="#4a9ac4"/>
<path d="M586 249 589.5 246.2 595.6 245.5 600.5 247.5 599.5 251 597.5 252.5 601 257.5 604.5 261.8 607.8 265.6 608.8 271.1 609 276.7 607 280 601 279.6 596.2 276 594.8 271.1 595.2 266.7 592.2 262.8 588.5 258.5 586.3 253.5Z" fill="#ffffff"/>
<path d="M535.6 260 537.8 253.3 541.1 248.9 543.3 247.8 545.6 251.1 550 252.2 553.3 248.9 556.7 246.7 560 247.8 557.8 250.6 562.2 254.4 567.8 257.8 572.2 261.1 571.1 264.4 565.6 265 560 263.9 554.4 263.3 548.9 264.4 543.3 265 538.9 264.4 536.1 262.8Z" fill="#ffffff"/>
<path d="M696.7 370.8 700 371.7 702.5 376.7 701.7 381.7 698.3 381.7 696.3 376.7Z" fill="#67a9cf"/>
<path d="M777.5 336.7 781.7 335 783.3 338.3 780.8 341.7 778 340Z" fill="#3690c0"/>
<path d="M809.2 319.2 811.7 321.7 810.8 327.5 808.7 325Z" fill="#3690c0"/>
<path d="M836.7 252.8 840 251.7 844.4 255 848.9 255.6 851.1 257.2 847.8 259.4 844.4 261.7 841.1 261.7 838.9 259.4 837.8 256.1Z" fill="#3690c0"/>
<path d="M841.9 263.8 847 268.8 849.1 273.9 850.6 278.9 852 283.2 850.6 286.1 845.5 287.6 841.2 288.3 838.3 289 835.4 291.2 832.5 295.5 831.1 297.7 828.9 294.8 825.3 291.9 826.7 289 831.1 285.4 835.4 285.4 838.3 284.5 839.7 278.9 842.6 275.3 844.1 270.3 841.9 265.2Z" fill="#3690c0"/>
<path d="M742.9 384.8 748.4 386 753.1 390.7 757.8 395.5 762.6 398.6 766.5 401.8 769.6 407.3 772.8 410.4 774.4 413.6 774 417.5 773.6 422.2 771.2 422.2 768.1 419.1 764.1 414.4 760.2 408.9 756.3 403.3 753.1 398.6 750 393.9 746 389.2 742.9 386Z" fill="#a6bddb"/>
<path d="M772.8 423.8 779.1 424.6 786.2 425.4 791.7 426.2 798 428.5 801.9 430.9 798 431.7 791.7 430.9 785.4 429.3 779.1 427.8 774.4 426.2Z" fill="#a6bddb"/>
<path d="M806.7 430.8 813.3 430 823.3 430.8 825 432.5 816.7 432.5 808.3 432.8Z" fill="#a6bddb"/>
<path d="M825 435 833.3 430.8 836.7 431.7 830 435.8Z" fill="#a6bddb"/>
<path d="M783.8 397.8 785.4 396.3 790.1 393.9 794.8 391.5 799.6 388.4 803.5 384.4 805.9 380.5 808.2 381.3 812.2 384.4 813 386 809 389.2 808.2 393.1 809.8 395.5 810.6 398.6 808.2 402.6 806.7 406.5 805.1 411.2 804.3 415.2 799.6 415.9 794.8 414.4 790.1 412.8 787 409.6 785.4 405.7 784.2 401.8Z" fill="#a6bddb"/>
<path d="M783.8 397.8 785.4 396.3 790.1 393.9 794.8 391.5 799.6 388.4 803.5 384.4 805.9 380.5 808.2 381.3 812.2 384.4 813 386 809 388.4 804.3 390.7 799.6 393.9 794.8 396.3 790.1 398.6 786.2 400.2 784.2 400.2Z" fill="#67a9cf"/>
<path d="M815 401.7 820 399.2 826.7 398.3 830.8 397.5 826.7 401.7 821.7 403.3 820 408.3 823.3 413.3 825 420 821.7 421.7 818.3 416.7 815.8 420.8 814.2 413.3 813.3 406.7Z" fill="#a6bddb"/>
<path d="M812.7 340.9 817 340.5 818.6 344.4 817.8 349.2 817 352.3 820.2 354.7 824.1 357 822.5 358.6 818.6 357 815.4 354.7 813.1 350.7 812.3 346Z" fill="#a6bddb"/>
<path d="M814.6 357 817 358.6 818.6 361.8 817 361 815 358.6Z" fill="#a6bddb"/>
<path d="M825.7 361 828.8 361.8 831.2 364.1 830.4 367.3 828 366.5 826.5 364.1Z" fill="#a6bddb"/>
<path d="M819.4 364.1 822.5 364.9 824.9 368.1 824.1 371.2 822.5 369.6 820.9 367.3Z" fill="#a6bddb"/>
<path d="M827.2 372 831.2 371.2 833.5 374.4 834.3 379.9 832 383.8 829.6 382.2 828 379.1 824.9 376.7 821.7 378.3 822.5 375.2 825.7 373.6Z" fill="#a6bddb"/>
<path d="M806.8 374.4 809.9 370.4 813.1 365.7 813.9 366.5 811.1 371.2 807.6 375.2Z" fill="#a6bddb"/>
<path d="M838.3 396.7 841.7 398.3 840.8 405 838.3 401.7Z" fill="#a6bddb"/>
<path d="M835 413.3 843.3 413.3 846.7 415 840 415.3Z" fill="#a6bddb"/>
<path d="M848.3 405.8 855 405 860 410 866.7 409.2 873.3 410 878.3 411.7 885 416.7 890 420.8 896.7 425 900 430 904.2 436.7 898.3 437.5 893.3 433.3 886.7 431.7 880 433.3 873.3 431.7 868.3 430 866.7 425 861.7 420 856.7 416.7 851.7 413.3 849.2 410Z" fill="#a6bddb"/>
<path d="M899.7 422 907.6 419.4 911.5 415.4 913 417.5 908 421.5 901 423.5Z" fill="#a6bddb"/>
<path d="M918 420.5 921 423 925 425.5 924 426.5 919 423.5Z" fill="#8a8f99"/>
<path d="M928 428 933 431.5 937.8 438.5 936.5 439.5 931 432.5 927 429.5Z" fill="#8a8f99"/>
<path d="M950 452.5 951.5 452.5 952 458.8 950.8 458.8Z" fill="#8a8f99"/>
<path d="M979 463.8 982 461.5 983 462.5 980 464.8Z" fill="#8a8f99"/>
<path d="M984 459.5 988 457.5 988.5 458.5 984.5 460.3Z" fill="#8a8f99"/>
<path d="M938.4 470.6 940 470.5 945 477 944 477.8Z" fill="#d8d8de"/>
<path d="M784.1 517.1 786.7 512.7 787.6 503.9 786.7 496.9 787.6 488.1 789.4 481 792 476.6 798.1 474.9 806.9 472.2 814 468.7 818.4 463.4 822.8 459 829.8 452.9 835.1 451.1 840.4 452 843.9 447.6 847.4 444.1 850.9 441.4 858 443.2 862.4 445 859.7 449.4 861.5 454.6 868.5 459.9 872 461.7 875.6 456.4 877.3 447.6 880 439.7 882.6 445.8 885.2 452.9 887 459.9 890.5 466.9 894.9 474 899.3 482.8 901.1 489.8 900.2 496.9 896.7 505.6 893.2 512.7 887.9 519.7 882.6 525 875.6 528.5 866.8 532 859.7 532.9 854.4 530.3 850.9 525 847.4 518 843.9 516.2 840.4 514.4 836.9 510.9 829.8 510 822.8 511.8 814 514.4 806.9 516.2 798.1 518 791.1 519.7 785.8 518.8Z" fill="#02818a"/>
<path d="M852.7 541.7 858 540 863.2 540.8 860.6 545.2 856.2 548.8 852.7 547Z" fill="#02818a"/>
<path d="M945 518.8 946.8 523.2 947.7 528.5 953 530.3 953 532.9 947.7 535.6 944.2 539.1 938.9 541.7 936.3 540 940.7 535.6 943.3 532 944.2 526.8 943.3 522.4Z" fill="#02818a"/>
<path d="M931.9 540 932.7 542.6 926.6 547 919.5 551.4 912.5 555.8 905.5 558.4 902 556.7 907.2 553.2 914.3 549.6 921.3 545.2 927.5 541.7Z" fill="#02818a"/></g><g fill="none" stroke="#2a5a80" stroke-width="0.8" stroke-opacity="0.55" stroke-linejoin="round" stroke-linecap="round"><path d="M456.7 282.5 456.7 284.4 456.1 294.4 446.7 300 438.9 304.4 434.4 306.7"/><path d="M483.3 279.5 484.4 291.1 486.7 294.4 487.8 296.7"/><path d="M487.8 296.7 487.8 307.8 488.9 315.6 492.2 322.2"/><path d="M531.1 296.7 532.2 318.9 532.2 335.6"/><path d="M532.2 328.9 567 328.9"/><path d="M442.2 318.9 443.3 330 444.4 351.1"/><path d="M472.2 336.7 471.1 346.7 468.9 351.1"/><path d="M503.3 326.7 505.6 335.6 504.4 346.7 502.2 357.8"/><path d="M530 335.6 528.9 346.7 527.8 357.8 531 364.4"/><path d="M571 331 572 340 569 350 566 358 563.3 366"/><path d="M591.1 362.2 588.9 368.9 595.6 375.6 604.4 373.3"/><path d="M588.9 384.4 586.7 400"/><path d="M562.2 386.7 570 389 578 388 588.9 384.4"/><path d="M466 357 475 360 485 360 495 362 502.2 357.8"/><path d="M488 390 490 384 495 376 502 368 504.4 368.9"/><path d="M497 392 502 385 508.9 377.8"/><path d="M500 396 508 393 520 392 533 390 545.6 387.8"/><path d="M545.6 387.8 548 398 549 406.5"/><path d="M557.8 389.4 557 400 561.8 407.5"/><path d="M490 413 496 414 505 418 515 420 520 425 522 432"/><path d="M522 432 530 433 538 431 545 432 549 430"/><path d="M497.6 445.1 515 446 525 447"/><path d="M515 432 516 440 525 447"/><path d="M504 487.4 512 488 517.8 489.2"/><path d="M538 478.2 545 475 553.6 480"/><path d="M525 458 535 462 545 458 553 452"/><path d="M436.1 361.1 440 366 444.4 368.9"/><path d="M440 370 450 368 458 366"/><path d="M458 366 465 360 470 355"/><path d="M450 385 450 372"/><path d="M459 383.5 458 370"/><path d="M467 382.5 468 365"/><path d="M433 351 436.1 361.1"/><path d="M503 400 505 410 500 414"/><path d="M492 400 496 398 500 396"/><path d="M455.9 256.5 461 257.5 467.5 260"/><path d="M471 232 476 238 479 247 481.7 255.8"/><path d="M481.7 223.3 483 230 487 237 490 243"/><path d="M497 221 498 232"/><path d="M512 218 514 225 516 235 515.6 247"/><path d="M528 216 535 220 540 228 545 232 548 240 556.7 246.7"/><path d="M527.5 205.3 530 195 532 185 540 180"/><path d="M488 210 492 200 500 190 510 180 520 176"/><path d="M516.3 188 520 180 525 175"/><path d="M481.7 255.8 486 248 494.2 250"/><path d="M487 243 495 242 505 244 512 246"/><path d="M497 231 505 229 512 226"/><path d="M516 235 525 236 532 238 540 240"/><path d="M531 254.5 533 258 536.1 262.8"/><path d="M519.3 254 525 257 530 262"/><path d="M516.7 269.2 522 266 528 265 533 264"/><path d="M585 275 588 290 597 302"/><path d="M562 281 570 281 578 279 586 276"/><path d="M565 297 562 290"/><path d="M730.8 335.8 735 325 741 316"/><path d="M763 330 768 340 775 350 776 358"/><path d="M762 360 770 362"/><path d="M690 304.2 700 308.3 710 311.7 715 313.3"/><path d="M716.7 315.5 718 322 717 328"/><path d="M722 316 727 317 728.5 323 726 328"/><path d="M730 316 733 322 733 330"/><path d="M256.7 478.4 258 490 258 505 259 520 261 535 264 550 268 565 272 578 280 583"/><path d="M262 478.5 270 477 278 475 283 470"/><path d="M283 470 290 475 295 480 300 485 305 487"/><path d="M296 487 300 495 305 505 304.5 518.8"/><path d="M283.3 374.2 282 385"/><path d="M296.7 383.3 295 395"/><path d="M301.7 385.8 303 395"/><path d="M259.2 393.3 263 388 270 390 282 388 290 393 297 395 305 396 310.8 396.7"/><path d="M220.8 406.7 228 403 235 400 241 403"/><path d="M225 398.3 232 397 238 398"/><path d="M290 463.3 300 462 310 465 318 470"/><path d="M878.5 411.8 877.9 433.1"/><path d="M186.7 351.7 193 346"/><path d="M200 357 205 352"/><path d="M209 365 213 362"/></g>
<g stroke="#ccc" stroke-width="1">
<line x1="202.5" y1="668" x2="202.5" y2="690"/><line x1="418.5" y1="668" x2="418.5" y2="690"/><line x1="633.5" y1="668" x2="633.5" y2="690"/><line x1="849.5" y1="668" x2="849.5" y2="690"/>
</g>
<rect x="123.5" y="689.5" width="60" height="13.5" fill="#eee" stroke="#aaa" stroke-width="1"/><line x1="153" y1="685" x2="153" y2="689.5" stroke="#ccc" stroke-width="1"/>
<g stroke="#999" stroke-width="0.8">
<rect x="202.5" y="689.5" width="107.9" height="13.5" fill="#f1eef6"/>
<rect x="310.4" y="689.5" width="107.9" height="13.5" fill="#d0d1e6"/>
<rect x="418.3" y="689.5" width="107.9" height="13.5" fill="#a6bddb"/>
<rect x="526.2" y="689.5" width="107.9" height="13.5" fill="#67a9cf"/>
<rect x="634.1" y="689.5" width="107.9" height="13.5" fill="#3690c0"/>
<rect x="742" y="689.5" width="107.9" height="13.5" fill="#02818a"/>
<rect x="849.9" y="689.5" width="107.4" height="13.5" fill="#016450"/>
</g>
<circle cx="751.5" cy="732.5" r="1.4" fill="#666"/>
</svg>
</body></html>
